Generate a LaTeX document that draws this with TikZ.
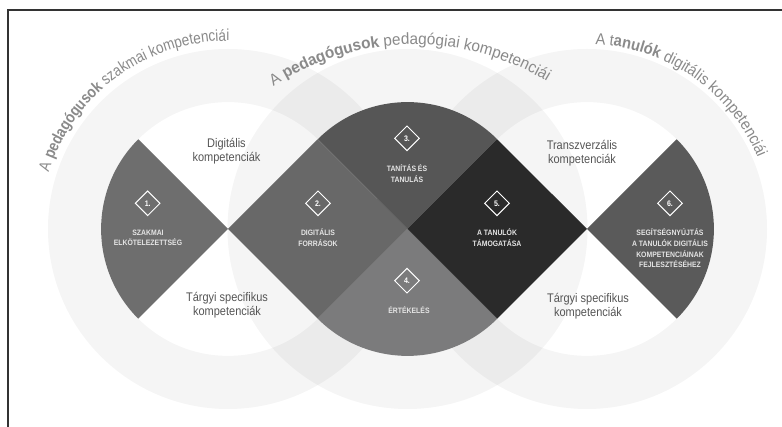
\documentclass[tikz,border=0pt]{standalone}
\usepackage{fontspec}
\setmainfont{Liberation Sans}
\newfontfamily\narrowsans[FakeStretch=0.88]{Liberation Sans}
\newfontfamily\arcsansA[FakeStretch=0.85]{Liberation Sans}
\newfontfamily\arcsansB[FakeStretch=0.96]{Liberation Sans}
\newfontfamily\arcsansC[FakeStretch=0.92]{Liberation Sans}
\usetikzlibrary{decorations.text,shapes.geometric}

\definecolor{framecol}{HTML}{333333}
\definecolor{ringtext}{HTML}{8A8A8A}
\definecolor{labeltext}{HTML}{555555}
\definecolor{areaA}{HTML}{6E6E6E}
\definecolor{areaB}{HTML}{686868}
\definecolor{areaC}{HTML}{565656}
\definecolor{areaD}{HTML}{7B7B7C}
\definecolor{areaE}{HTML}{2A2A2A}
\definecolor{areaF}{HTML}{5A5A5A}

\newcommand\ringfontA{\arcsansA\fontsize{16}{19}\selectfont}
\newcommand\ringfontB{\arcsansB\fontsize{16}{19}\selectfont}
\newcommand\ringfontC{\arcsansC\fontsize{16}{19}\selectfont}
\newcommand\rin{126.9}
\newcommand\rout{180}

\begin{document}
\begin{tikzpicture}[x=1pt,y=1pt,
  ring/.style={fill=black, fill opacity=0.04, even odd rule},
  badge/.style={diamond, draw=white, line width=1pt, minimum width=25pt,
    minimum height=25pt, inner sep=0pt, text=white,
    font=\narrowsans\bfseries\fontsize{8}{8}\selectfont},
  areatitle/.style={align=center, text=white!90!black, inner sep=0pt,
    font=\narrowsans\bfseries\fontsize{7.8}{10.8}\selectfont},
  sublabel/.style={align=center, text=labeltext, inner sep=0pt,
    font=\narrowsans\fontsize{12.5}{13.8}\selectfont},
  arctext/.style={decorate, decoration={text along path, text align=center,
    text color=ringtext, text={#1}}}
]
\useasboundingbox (0,0) rectangle (782,427);
\fill[white] (0,0) rectangle (782,427);

% frame
\coordinate (fb) at (8,0);
\coordinate (fc) at (8,417);
\coordinate (fr) at (782,417);
\draw[framecol, line width=1.3pt] (fb) -- (fc) -- (fr);

% circle centres
\coordinate (L) at (228,198);
\coordinate (M) at (407.5,198);
\coordinate (R) at (587,198);
\coordinate (Mt) at (414,124.4);

% translucent rings
\path[ring] (L) circle[radius=\rout] (L) circle[radius=\rin];
\path[ring] (M) circle[radius=\rout] (M) circle[radius=\rin];
\path[ring] (R) circle[radius=\rout] (R) circle[radius=\rin];

% the six areas
\fill[areaA] (L) -- ++(135:\rin) arc[start angle=135, end angle=225, radius=\rin] -- cycle;
\fill[areaB] (L) -- ++(45:\rin) -- (M) -- ++(-135:\rin) -- cycle;
\fill[areaC] (M) -- ++(45:\rin) arc[start angle=45, end angle=135, radius=\rin] -- cycle;
\fill[areaD] (M) -- ++(225:\rin) arc[start angle=225, end angle=315, radius=\rin] -- cycle;
\fill[areaE] (M) -- ++(45:\rin) -- (R) -- ++(-135:\rin) -- cycle;
\fill[areaF] (R) -- ++(-45:\rin) arc[start angle=-45, end angle=45, radius=\rin] -- cycle;

% numbered badges
\node[badge] (b1) at (147.7,223.7) {1.};
\node[badge] (b2) at (318,223.7) {2.};
\node[badge] (b3) at (407,288.7) {3.};
\node[badge] (b4) at (407,146.3) {4.};
\node[badge] (b5) at (497,223.7) {5.};
\node[badge] (b6) at (670,223.7) {6.};

% area titles
\node[areatitle] (t1) at (148,189.2) {SZAKMAI\\ELKÖTELEZETTSÉG};
\node[areatitle] (t2) at (318,189.2) {DIGITÁLIS\\FORRÁSOK};
\node[areatitle] (t3) at (407,253.3) {TANÍTÁS ÉS\\TANULÁS};
\node[areatitle] (t4) at (409,117) {ÉRTÉKELÉS};
\node[areatitle] (t5) at (497,189.2) {A TANULÓK\\TÁMOGATÁSA};
\node[areatitle] (t6) at (670,178.8) {SEGÍTSÉGNYÚJTÁS\\A TANULÓK DIGITÁLIS\\KOMPETENCIÁINAK\\FEJLESZTÉSÉHEZ};

% competence labels in the white quadrants
\node[sublabel] (s1) at (226.5,275.5) {Digitális\\kompetenciák};
\node[sublabel] (s2) at (227,122) {Tárgyi specifikus\\kompetenciák};
\node[sublabel] (s3) at (582,274) {Transzverzális\\kompetenciák};
\node[sublabel] (s4) at (588,121) {Tárgyi specifikus\\kompetenciák};

% curved ring titles
\path[arctext={|\ringfontA|A |\ringfontA\bfseries|pedagógusok |\ringfontA|szakmai kompetenciái}]
  (L) ++(186:188) arc[start angle=186, end angle=66, radius=188];
\path[arctext={|\ringfontB|A |\ringfontB\bfseries|pedagógusok |\ringfontB|pedagógiai kompetenciái}]
  (Mt) ++(138:258) arc[start angle=138, end angle=44, radius=258];
\path[arctext={|\ringfontC|A t|\ringfontC\bfseries|anulók |\ringfontC|digitális kompetenciái}]
  (R) ++(115:185) arc[start angle=115, end angle=-5, radius=185];
\end{tikzpicture}
\end{document}
